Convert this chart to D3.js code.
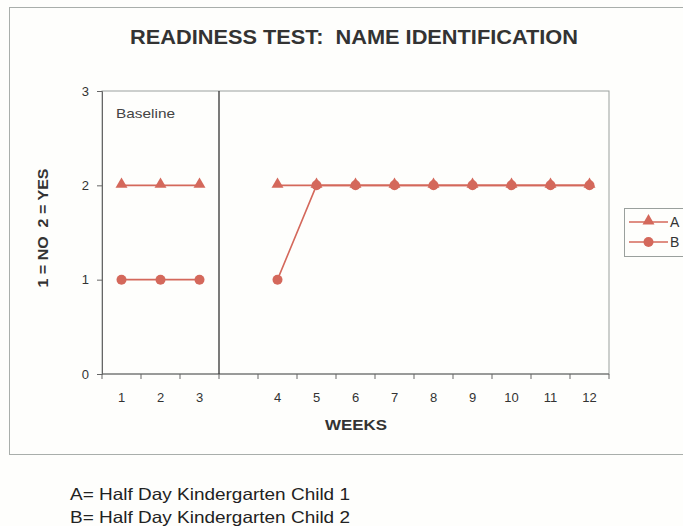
<!DOCTYPE html>
<html>
<head>
<meta charset="utf-8">
<script src="https://cdn.jsdelivr.net/npm/d3@7"></script>
<style>
  body { margin: 0; background: #fefefc; font-family: Arial, "Liberation Sans", sans-serif; }
  svg text { font-family: Arial, "Liberation Sans", sans-serif; }
</style>
</head>
<body>
<div id="chart"></div>
<script>
// categories along the x axis; the empty slot separates baseline from treatment
var weeks = ['1', '2', '3', '', '4', '5', '6', '7', '8', '9', '10', '11', '12']
var seriesA = [2, 2, 2, null, 2, 2, 2, 2, 2, 2, 2, 2, 2]
var seriesB = [1, 1, 1, null, 1, 2, 2, 2, 2, 2, 2, 2, 2]
var yTicks = [0, 1, 2, 3]
var notes = ['A= Half Day Kindergarten Child 1', 'B= Half Day Kindergarten Child 2']

var width = 683, height = 526
var red = '#d4685b'
var plot = { left: 102, right: 609, top: 91, bottom: 374 }

var svg = d3.select('#chart').append('svg')
    .attr('width', width)
    .attr('height', height)

// outer chart frame (runs off the right edge)
svg.append('rect')
    .attr('x', 9.5).attr('y', 7.5)
    .attr('width', 700).attr('height', 447)
    .attr('fill', 'none')
    .attr('stroke', '#a9aeab')
    .attr('stroke-width', 1)

// the scan is a bit wider than plain Arial, so stretch the long labels
svg.append('text')
    .attr('x', 354).attr('y', 44)
    .attr('text-anchor', 'middle')
    .attr('font-size', 20)
    .attr('font-weight', 'bold')
    .attr('fill', '#333')
    .attr('xml:space', 'preserve')
    .attr('textLength', 448)
    .attr('lengthAdjust', 'spacingAndGlyphs')
    .text('READINESS TEST:  NAME IDENTIFICATION')

var x = d3.scaleBand().domain(d3.range(weeks.length)).range([plot.left, plot.right])
var y = d3.scaleLinear().domain([0, 3]).range([plot.bottom, plot.top])

// plot area border
svg.append('rect')
    .attr('x', plot.left).attr('y', plot.top)
    .attr('width', plot.right - plot.left).attr('height', plot.bottom - plot.top)
    .attr('fill', 'none')
    .attr('stroke', '#9aa09d')

// y axis
var yAxis = svg.append('g')
    .attr('transform', 'translate(' + plot.left + ',0)')
    .call(d3.axisLeft(y).tickValues(yTicks).tickFormat(d3.format('d')).tickSize(5).tickPadding(8))
yAxis.select('.domain').attr('stroke', '#666')
yAxis.selectAll('.tick line').attr('stroke', '#666')
yAxis.selectAll('text').attr('font-size', 13).attr('fill', '#333')

// x axis: ticks at category boundaries, labels at centres
var xAxis = svg.append('g')
    .attr('transform', 'translate(0,' + plot.bottom + ')')
xAxis.append('line')
    .attr('x1', plot.left).attr('x2', plot.right)
    .attr('stroke', '#666')
xAxis.selectAll('line.tk')
    .data(d3.range(weeks.length + 1))
    .enter().append('line')
    .attr('class', 'tk')
    .attr('x1', function (i) { return plot.left + i * x.bandwidth() })
    .attr('x2', function (i) { return plot.left + i * x.bandwidth() })
    .attr('y1', 0).attr('y2', 5)
    .attr('stroke', '#666')
xAxis.selectAll('text')
    .data(weeks)
    .enter().append('text')
    .attr('x', function (d, i) { return x(i) + x.bandwidth() / 2 })
    .attr('y', 28)
    .attr('text-anchor', 'middle')
    .attr('font-size', 13)
    .attr('fill', '#333')
    .text(function (d) { return d })

// phase divider between baseline and treatment
svg.append('line')
    .attr('x1', x(3)).attr('x2', x(3))
    .attr('y1', plot.top).attr('y2', plot.bottom)
    .attr('stroke', '#333')
    .attr('stroke-width', 1.3)

svg.append('text')
    .attr('x', 116).attr('y', 118)
    .attr('font-size', 13)
    .attr('fill', '#444')
    .attr('textLength', 59)
    .attr('lengthAdjust', 'spacingAndGlyphs')
    .text('Baseline')

svg.append('text')
    .attr('x', 356).attr('y', 430)
    .attr('text-anchor', 'middle')
    .attr('font-size', 15)
    .attr('font-weight', 'bold')
    .attr('fill', '#333')
    .attr('textLength', 62)
    .attr('lengthAdjust', 'spacingAndGlyphs')
    .text('WEEKS')

svg.append('text')
    .attr('transform', 'translate(48,228) rotate(-90)')
    .attr('text-anchor', 'middle')
    .attr('font-size', 15)
    .attr('font-weight', 'bold')
    .attr('fill', '#333')
    .attr('xml:space', 'preserve')
    .attr('textLength', 119)
    .attr('lengthAdjust', 'spacingAndGlyphs')
    .text('1 = NO  2 = YES')

function cx(i) { return x(i) + x.bandwidth() / 2 }

var line = d3.line()
    .defined(function (d) { return d !== null })
    .x(function (d, i) { return cx(i) })
    .y(function (d) { return y(d) })

var tri = d3.symbol().type(d3.symbolTriangle).size(62)

function drawSeries(values, marker) {
    svg.append('path')
        .datum(values)
        .attr('d', line)
        .attr('fill', 'none')
        .attr('stroke', red)
        .attr('stroke-width', 1.6)
    var pts = values.map(function (v, i) { return { v: v, i: i } })
        .filter(function (p) { return p.v !== null })
    if (marker === 'tri') {
        svg.selectAll(null).data(pts).enter().append('path')
            .attr('d', tri)
            .attr('transform', function (p) { return 'translate(' + cx(p.i) + ',' + (y(p.v) - 1) + ')' })
            .attr('fill', red)
    } else {
        svg.selectAll(null).data(pts).enter().append('circle')
            .attr('cx', function (p) { return cx(p.i) })
            .attr('cy', function (p) { return y(p.v) })
            .attr('r', 5)
            .attr('fill', red)
    }
}

drawSeries(seriesA, 'tri')
drawSeries(seriesB, 'circle')

// legend
var legend = svg.append('g').attr('transform', 'translate(624,208)')
legend.append('rect')
    .attr('x', 0.5).attr('y', 0.5)
    .attr('width', 70).attr('height', 48)
    .attr('fill', 'none')
    .attr('stroke', '#9aa09d')
var legendItems = [{ name: 'A', marker: 'tri' }, { name: 'B', marker: 'circle' }]
legendItems.forEach(function (item, k) {
    var ly = 14 + k * 20
    legend.append('line')
        .attr('x1', 5).attr('x2', 44).attr('y1', ly).attr('y2', ly)
        .attr('stroke', red).attr('stroke-width', 1.6)
    if (item.marker === 'tri') {
        legend.append('path').attr('d', tri).attr('transform', 'translate(24.5,' + (ly - 1) + ')').attr('fill', red)
    } else {
        legend.append('circle').attr('cx', 24.5).attr('cy', ly).attr('r', 5).attr('fill', red)
    }
    legend.append('text')
        .attr('x', 46).attr('y', ly + 5)
        .attr('font-size', 14)
        .attr('fill', '#333')
        .text(item.name)
})

// notes under the chart
svg.selectAll('text.note')
    .data(notes)
    .enter().append('text')
    .attr('class', 'note')
    .attr('x', 70)
    .attr('y', function (d, i) { return 500 + i * 23 })
    .attr('font-size', 16.5)
    .attr('fill', '#222')
    .attr('textLength', 280)
    .attr('lengthAdjust', 'spacingAndGlyphs')
    .text(function (d) { return d })
</script>
</body>
</html>
